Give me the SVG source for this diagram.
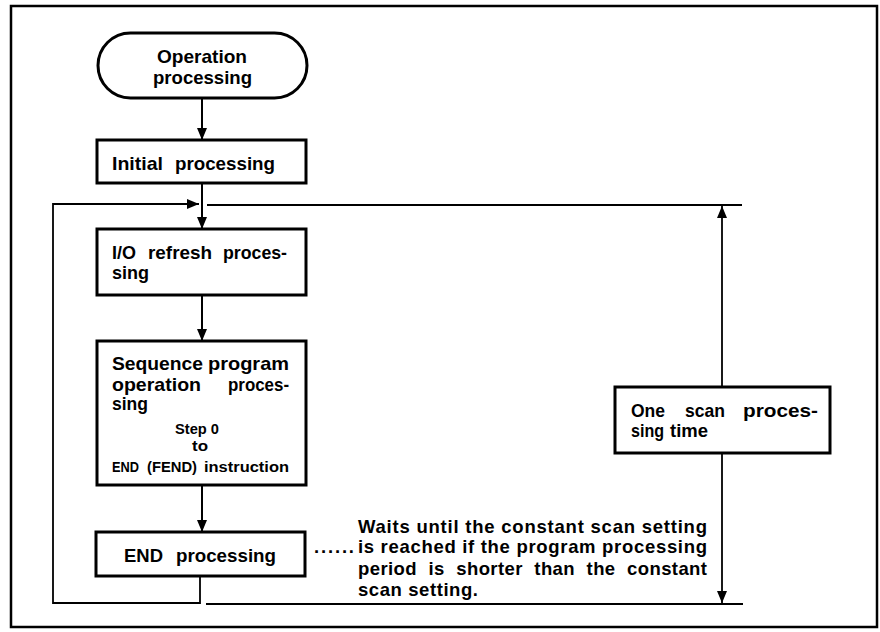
<svg xmlns="http://www.w3.org/2000/svg" width="880" height="632" viewBox="0 0 880 632">
  <style>
    .box { fill: #fff; stroke: #000; stroke-width: 3; }
    .frame { fill: none; stroke: #000; stroke-width: 2.5; }
    .flow { fill: none; stroke: #000; stroke-width: 2; }
    .thin { fill: none; stroke: #000; stroke-width: 1.8; }
    .t { font-family: "Liberation Sans", Arial, Helvetica, sans-serif; font-weight: bold; font-size: 18.5px; fill: #000; }
    .s { font-family: "Liberation Sans", Arial, Helvetica, sans-serif; font-weight: bold; font-size: 14.5px; fill: #000; }
    .c { text-anchor: middle; }
  </style>
  <defs>
    <marker id="arrow" markerUnits="userSpaceOnUse" markerWidth="12" markerHeight="10" refX="12" refY="5" orient="auto">
      <path d="M0,0 L12,5 L0,10 z" fill="#000"/>
    </marker>
  </defs>

  <rect width="880" height="632" fill="#fff"/>

  <!-- outer frame -->
  <rect class="frame" x="11" y="6" width="866" height="621"/>

  <!-- connectors -->
  <g id="connectors">
    <line class="flow" x1="202" y1="98" x2="202" y2="140" marker-end="url(#arrow)"/>
    <line class="flow" x1="202" y1="183" x2="202" y2="229" marker-end="url(#arrow)"/>
    <line class="flow" x1="202" y1="295" x2="202" y2="341" marker-end="url(#arrow)"/>
    <line class="flow" x1="202" y1="485" x2="202" y2="532" marker-end="url(#arrow)"/>
    <!-- return loop from END processing back to the top of the scan -->
    <polyline class="thin" points="200,576 200,603 53,603 53,204 199,204" marker-end="url(#arrow)"/>
    <!-- scan time bounds -->
    <line class="thin" x1="207" y1="205" x2="742" y2="205"/>
    <line class="thin" x1="206" y1="604" x2="743" y2="604"/>
    <line class="thin" x1="722" y1="387" x2="722" y2="206" marker-end="url(#arrow)"/>
    <line class="thin" x1="722" y1="453" x2="722" y2="603" marker-end="url(#arrow)"/>
  </g>

  <g id="start">
    <rect class="box" x="98" y="33" width="209" height="65" rx="32.5" ry="32.5"/>
    <text class="t" x="157" y="63" textLength="90" lengthAdjust="spacingAndGlyphs">Operation</text>
    <text class="t" x="153" y="84" textLength="99" lengthAdjust="spacingAndGlyphs">processing</text>
  </g>

  <g id="initial">
    <rect class="box" x="97" y="140" width="209" height="43"/>
    <text class="t" x="112" y="170" textLength="51" lengthAdjust="spacingAndGlyphs">Initial</text>
    <text class="t" x="175" y="170" textLength="100" lengthAdjust="spacingAndGlyphs">processing</text>
  </g>

  <g id="io-refresh">
    <rect class="box" x="97" y="229" width="209" height="66"/>
    <text class="t" x="112" y="259" textLength="24" lengthAdjust="spacingAndGlyphs">I/O</text>
    <text class="t" x="148" y="259" textLength="64" lengthAdjust="spacingAndGlyphs">refresh</text>
    <text class="t" x="223" y="259" textLength="64" lengthAdjust="spacingAndGlyphs">proces-</text>
    <text class="t" x="112" y="279" textLength="37" lengthAdjust="spacingAndGlyphs">sing</text>
  </g>

  <g id="sequence">
    <rect class="box" x="97" y="341" width="209" height="144"/>
    <text class="t" x="112" y="370" textLength="91" lengthAdjust="spacingAndGlyphs">Sequence</text>
    <text class="t" x="208" y="370" textLength="81" lengthAdjust="spacingAndGlyphs">program</text>
    <text class="t" x="112" y="391" textLength="89" lengthAdjust="spacingAndGlyphs">operation</text>
    <text class="t" x="228" y="391" textLength="61" lengthAdjust="spacingAndGlyphs">proces-</text>
    <text class="t" x="112" y="410" textLength="36" lengthAdjust="spacingAndGlyphs">sing</text>
    <text class="s" x="175" y="434" textLength="44" lengthAdjust="spacingAndGlyphs">Step 0</text>
    <text class="s" x="192" y="451" textLength="16" lengthAdjust="spacingAndGlyphs">to</text>
    <text class="s" x="112" y="472" textLength="27" lengthAdjust="spacingAndGlyphs">END</text>
    <text class="s" x="147" y="472" textLength="50" lengthAdjust="spacingAndGlyphs">(FEND)</text>
    <text class="s" x="204" y="472" textLength="85" lengthAdjust="spacingAndGlyphs">instruction</text>
  </g>

  <g id="end">
    <rect class="box" x="96" y="532" width="209" height="44"/>
    <text class="t" x="124" y="562" textLength="39" lengthAdjust="spacingAndGlyphs">END</text>
    <text class="t" x="176" y="562" textLength="100" lengthAdjust="spacingAndGlyphs">processing</text>
  </g>

  <g id="note">
    <text class="t" x="314" y="553" textLength="40">......</text>
    <text class="t" x="358" y="533" textLength="349">Waits until the constant scan setting</text>
    <text class="t" x="358" y="553" textLength="349">is reached if the program processing</text>
    <text class="t" x="358" y="575" textLength="349" style="word-spacing:6px">period is shorter than the constant</text>
    <text class="t" x="358" y="596" textLength="120">scan setting.</text>
  </g>

  <g id="scan-time">
    <rect class="box" x="615" y="387" width="215" height="66"/>
    <text class="t" x="631" y="417" textLength="34" lengthAdjust="spacingAndGlyphs">One</text>
    <text class="t" x="685" y="417" textLength="40" lengthAdjust="spacingAndGlyphs">scan</text>
    <text class="t" x="743" y="417" textLength="75" lengthAdjust="spacingAndGlyphs">proces-</text>
    <text class="t" x="631" y="437" textLength="33" lengthAdjust="spacingAndGlyphs">sing</text>
    <text class="t" x="670" y="437" textLength="38" lengthAdjust="spacingAndGlyphs">time</text>
  </g>
</svg>
